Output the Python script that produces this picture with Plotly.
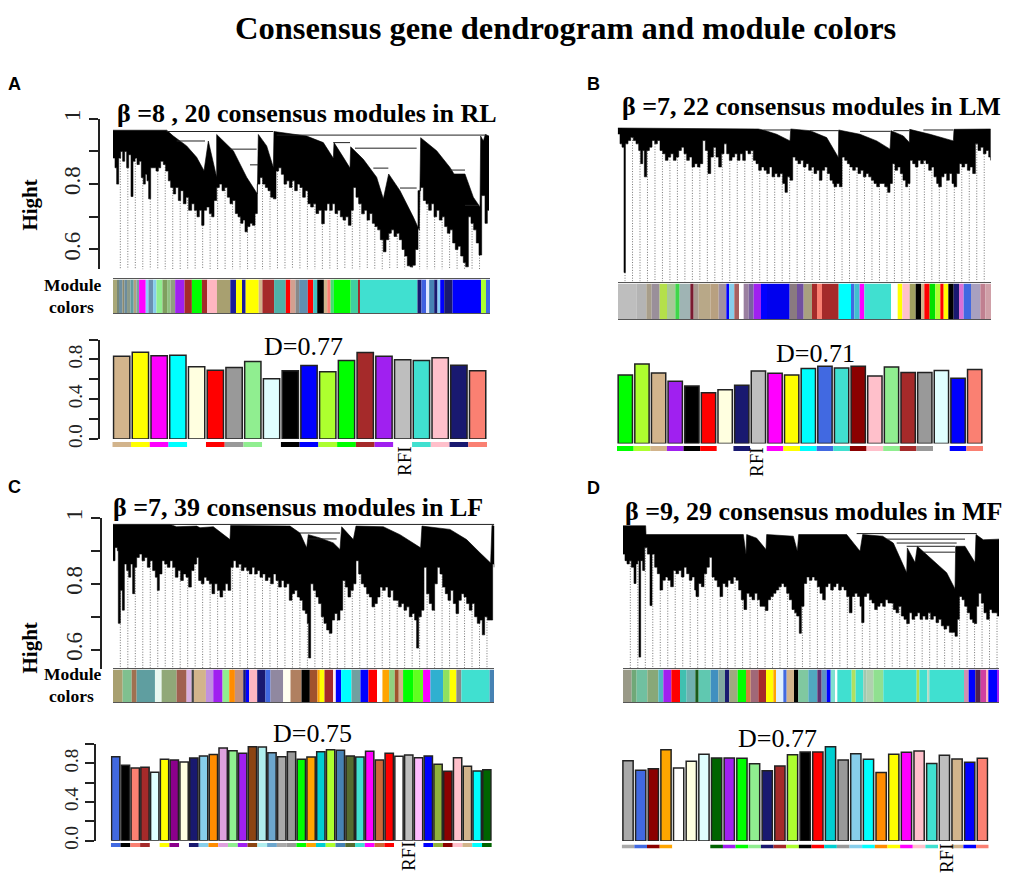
#### consensus gene dendrograms, module colour bands and preservation bars for four muscles

import plotly.graph_objects as go

W, H = 1013, 882

# ---- dendrogram lower edge (gene position along the tree, branch height)
a_low = [(339, .88), (345, .85), (350, .80), (356, .88), (362, .90), (368, .87), (374, .90), (380, .85), (386, .89), (393, .762), (399, .87), (405, .88), (411, .86), (418, .87), (424, .82), (430, .80), (436, .83), (441, .81), (446, .755), (452, .85), (460, .85), (468, .84), (475, .85), (482, .87), (490, .86), (497, .84), (505, .81), (512, .79), (520, .77), (527, .79), (535, .75), (542, .78), (550, .74), (558, .76), (566, .72), (575, .74), (583, .72), (591, .70), (598, .72), (605, .674), (612, .72), (620, .73), (628, .71), (635, .70), (642, .75), (650, .79), (658, .80), (666, .78), (674, .79), (682, .76), (690, .74), (698, .75), (706, .71), (714, .70), (722, .68), (729, .69), (735, .654), (742, .67), (750, .68), (757, .674), (765, .71), (772, .80), (780, .82), (788, .80), (796, .79), (804, .78), (812, .76), (820, .755), (828, .84), (836, .85), (844, .83), (852, .80), (860, .81), (868, .79), (876, .81), (884, .78), (892, .80), (900, .79), (908, .76), (916, .78), (924, .74), (932, .73), (940, .74), (948, .71), (956, .72), (965, .679), (973, .72), (981, .74), (989, .72), (997, .74), (1005, .71), (1013, .72), (1021, .70), (1029, .69), (1037, .70), (1045, .674), (1053, .72), (1060, .79), (1068, .76), (1076, .74), (1085, .709), (1093, .72), (1101, .69), (1109, .71), (1117, .68), (1125, .67), (1133, .66), (1141, .63), (1150, .593), (1158, .63), (1166, .65), (1174, .66), (1182, .64), (1190, .65), (1198, .63), (1206, .60), (1214, .58), (1222, .55), (1230, .547), (1238, .552), (1246, .60), (1254, .78), (1262, .79), (1270, .75), (1278, .74), (1286, .72), (1294, .74), (1302, .70), (1310, .72), (1318, .69), (1326, .70), (1334, .67), (1342, .65), (1350, .66), (1358, .62), (1366, .60), (1374, .61), (1382, .58), (1390, .56), (1397, .547), (1405, .70), (1413, .68), (1421, .66), (1429, .62), (1437, .583), (1445, .765), (1455, .68), (1462, .72), (1467, .765)]
a_top = [(339, .965), (500, .965), (520, .947), (560, .917), (590, .882), (612, .841), (625, .932), (650, .821), (650, .952), (700, .902), (740, .821), (772, .770), (775, .952), (800, .917), (820, .851), (822, .961), (920, .947), (970, .927), (1000, .879), (1002, .927), (1030, .882), (1050, .849), (1052, .914), (1090, .876), (1130, .821), (1150, .755), (1166, .831), (1200, .780), (1240, .699), (1258, .659), (1262, .942), (1310, .902), (1350, .851), (1362, .831), (1395, .831), (1420, .760), (1440, .730), (1442, .947), (1450, .932), (1456, .952), (1467, .947)]
a_links = [(500, 820, .961), (830, 1460, .950), (530, 615, .932), (690, 770, .907), (750, 775, .859), (1000, 1050, .927), (1065, 1250, .910), (1120, 1165, .849), (1200, 1250, .788), (1350, 1395, .843), (1395, 1435, .735)]

b_low = [(323, .95), (330, .92), (336, .91), (342, .53), (346, .92), (354, .93), (362, .94), (370, .93), (378, .92), (386, .90), (392, .86), (398, .90), (403, .82), (410, .90), (418, .91), (426, .93), (434, .92), (442, .93), (450, .90), (458, .89), (466, .87), (474, .88), (482, .89), (490, .87), (498, .88), (506, .90), (514, .91), (522, .89), (530, .87), (538, .88), (546, .85), (554, .86), (562, .85), (570, .86), (578, .93), (586, .90), (594, .83), (602, .88), (610, .91), (618, .88), (626, .85), (634, .89), (642, .92), (650, .89), (658, .87), (666, .88), (674, .89), (682, .87), (690, .89), (698, .87), (706, .90), (714, .89), (722, .90), (730, .87), (738, .86), (746, .84), (754, .85), (762, .84), (770, .83), (778, .85), (786, .82), (794, .83), (802, .82), (810, .83), (818, .80), (825, .773), (832, .82), (840, .81), (848, .88), (856, .87), (864, .86), (872, .87), (880, .85), (888, .86), (896, .84), (904, .85), (912, .83), (920, .84), (928, .81), (936, .84), (944, .85), (952, .83), (960, .81), (968, .80), (972, .79), (980, .80), (988, .79), (996, .88), (1004, .87), (1012, .86), (1020, .85), (1028, .84), (1036, .85), (1044, .83), (1052, .84), (1060, .82), (1068, .83), (1076, .82), (1084, .81), (1092, .80), (1100, .79), (1108, .80), (1116, .80), (1124, .79), (1133, .773), (1140, .80), (1147, .86), (1155, .84), (1163, .85), (1171, .83), (1179, .81), (1187, .79), (1193, .80), (1200, .87), (1208, .86), (1216, .85), (1224, .87), (1232, .86), (1240, .87), (1248, .86), (1256, .84), (1264, .85), (1272, .82), (1280, .80), (1286, .79), (1294, .82), (1302, .83), (1310, .81), (1318, .83), (1326, .80), (1332, .79), (1340, .83), (1348, .86), (1356, .85), (1364, .86), (1372, .84), (1380, .85), (1388, .83), (1396, .92), (1404, .90), (1412, .91), (1420, .89), (1428, .90), (1436, .88), (1442, .87)]
b_top = [(323, .968), (745, .965), (760, .962), (800, .949), (840, .929), (842, .965), (900, .960), (950, .939), (985, .879), (986, .962), (1050, .949), (1100, .929), (1140, .904), (1143, .960), (1180, .944), (1198, .924), (1199, .964), (1260, .949), (1330, .929), (1332, .964), (1442, .965)]
b_links = [(760, 840, .962), (900, 985, .960), (1050, 1142, .958), (1150, 1198, .960), (1240, 1330, .962)]

c_low = [(339, .87), (345, .91), (352, .90), (355, .68), (361, .78), (367, .72), (373, .86), (380, .84), (386, .82), (392, .86), (398, .77), (404, .85), (410, .88), (418, .89), (426, .87), (434, .88), (442, .85), (450, .87), (458, .84), (466, .82), (472, .78), (478, .83), (486, .87), (494, .86), (502, .85), (510, .87), (518, .85), (526, .82), (534, .84), (542, .81), (550, .83), (558, .82), (566, .79), (574, .84), (582, .86), (590, .88), (596, .81), (604, .80), (612, .82), (620, .81), (628, .80), (636, .77), (644, .80), (652, .78), (660, .76), (668, .78), (676, .80), (684, .78), (692, .85), (700, .87), (708, .85), (716, .86), (724, .84), (732, .85), (740, .84), (748, .83), (756, .85), (764, .83), (772, .84), (780, .82), (788, .83), (796, .81), (804, .82), (812, .80), (820, .83), (828, .81), (836, .79), (844, .81), (852, .79), (860, .80), (868, .75), (876, .77), (884, .78), (892, .76), (900, .75), (908, .72), (916, .71), (922, .68), (926, .575), (932, .80), (940, .78), (948, .76), (956, .74), (964, .70), (972, .68), (980, .66), (988, .65), (996, .69), (1004, .71), (1012, .69), (1020, .72), (1028, .81), (1036, .79), (1044, .76), (1052, .78), (1060, .80), (1068, .87), (1076, .83), (1084, .80), (1092, .79), (1100, .77), (1108, .76), (1116, .73), (1124, .74), (1132, .76), (1140, .79), (1148, .78), (1156, .79), (1164, .76), (1172, .78), (1180, .75), (1188, .75), (1196, .73), (1204, .74), (1212, .72), (1220, .73), (1228, .70), (1236, .71), (1244, .69), (1250, .605), (1256, .70), (1264, .72), (1272, .85), (1280, .77), (1288, .74), (1296, .72), (1304, .80), (1312, .85), (1320, .83), (1328, .79), (1336, .77), (1344, .75), (1352, .78), (1360, .74), (1368, .71), (1376, .75), (1384, .77), (1392, .76), (1400, .74), (1408, .72), (1416, .74), (1424, .70), (1432, .68), (1440, .69), (1447, .645), (1454, .70), (1462, .69), (1472, .69), (1478, .86), (1483, .85)]
c_top = [(339, .980), (510, .980), (530, .973), (590, .975), (600, .970), (640, .973), (690, .934), (692, .977), (870, .975), (900, .954), (920, .909), (925, .949), (960, .939), (1000, .924), (1020, .904), (1025, .973), (1060, .934), (1068, .975), (1150, .973), (1200, .949), (1262, .909), (1266, .975), (1350, .965), (1400, .934), (1440, .894), (1472, .863), (1476, .977), (1483, .975)]
c_links = [(339, 1483, .980), (900, 1020, .954), (925, 1010, .936)]

d_low = [(339, .90), (345, .88), (351, .87), (358, .88), (364, .86), (372, .81), (378, .87), (383, .88), (387, .584), (392, .88), (398, .85), (404, .92), (412, .90), (420, .742), (426, .90), (434, .86), (442, .84), (450, .79), (458, .82), (466, .83), (474, .82), (482, .80), (490, .85), (498, .84), (506, .85), (514, .83), (522, .86), (530, .84), (538, .82), (546, .83), (554, .79), (558, .77), (566, .81), (574, .80), (582, .84), (590, .86), (598, .89), (606, .83), (614, .82), (622, .80), (630, .77), (638, .81), (646, .80), (654, .82), (662, .81), (670, .83), (678, .82), (686, .79), (694, .76), (702, .73), (710, .78), (718, .77), (726, .76), (734, .78), (742, .76), (750, .74), (758, .74), (766, .727), (774, .76), (782, .77), (790, .78), (798, .79), (806, .80), (814, .81), (822, .80), (830, .78), (838, .76), (846, .73), (854, .72), (860, .71), (868, .657), (874, .74), (882, .81), (890, .83), (898, .82), (906, .83), (914, .82), (922, .80), (930, .78), (938, .76), (946, .80), (954, .81), (962, .79), (970, .80), (978, .81), (986, .79), (994, .80), (1002, .79), (1010, .77), (1018, .72), (1026, .77), (1034, .78), (1042, .77), (1050, .74), (1055, .69), (1062, .77), (1070, .78), (1078, .76), (1086, .75), (1094, .73), (1102, .74), (1110, .75), (1118, .74), (1126, .76), (1134, .75), (1142, .75), (1150, .73), (1158, .72), (1166, .74), (1174, .71), (1182, .70), (1190, .687), (1198, .72), (1206, .70), (1214, .71), (1222, .72), (1230, .70), (1238, .71), (1246, .70), (1254, .72), (1262, .70), (1270, .71), (1278, .69), (1286, .70), (1294, .68), (1302, .67), (1310, .68), (1318, .66), (1326, .66), (1335, .648), (1342, .70), (1348, .77), (1356, .76), (1364, .74), (1372, .72), (1380, .70), (1388, .69), (1393, .687), (1400, .74), (1406, .78), (1414, .75), (1422, .72), (1430, .70), (1438, .73), (1446, .72), (1454, .72), (1462, .71), (1467, .84)]
d_top = [(339, .987), (407, .987), (408, .960), (700, .960), (708, .899), (710, .960), (740, .949), (768, .914), (770, .960), (850, .955), (862, .909), (866, .960), (1010, .960), (1050, .909), (1058, .960), (1118, .955), (1150, .934), (1190, .843), (1192, .919), (1215, .874), (1222, .924), (1250, .899), (1310, .843), (1335, .793), (1337, .924), (1365, .924), (1395, .874), (1398, .960), (1420, .944), (1467, .946)]
d_links = [(1040, 1400, .963), (1130, 1365, .946), (1160, 1340, .934), (1190, 1335, .924), (1240, 1335, .906)]

# ---- module colour bands (gene position where each colour starts, colour)
a_band = [(339, '#a9a878'), (351, '#778877'), (357, '#6f8fa0'), (367, '#8a8a70'), (373, '#6c8c9c'), (381, '#8a9a8a'), (391, '#5f9ea0'), (401, '#b0a080'), (409, '#7ca0a0'), (417, '#ff00ff'), (437, '#87cefa'), (445, '#6a8fb0'), (459, '#87ceeb'), (469, '#90ee90'), (487, '#7f9f5f'), (501, '#90c080'), (511, '#8fa080'), (525, '#a020f0'), (553, '#a52a2a'), (575, '#00ff00'), (605, '#a52a2a'), (621, '#ffb6c1'), (650, '#a8a070'), (690, '#1a1a9a'), (707, '#ffff00'), (725, '#1a1a9a'), (736, '#ffff00'), (775, '#d2b48c'), (786, '#a52a2a'), (821, '#50b0a8'), (856, '#ff0000'), (870, '#d2a090'), (885, '#888888'), (896, '#5f8fb0'), (922, '#ff0000'), (938, '#40c0c0'), (950, '#000000'), (970, '#d2b48c'), (980, '#fa8072'), (990, '#40e070'), (1000, '#00ff00'), (1050, '#40d0a0'), (1072, '#a52a2a'), (1078, '#40e0d0'), (1250, '#191970'), (1262, '#4060e0'), (1276, '#e0e8ff'), (1285, '#4682b4'), (1300, '#191970'), (1310, '#87cefa'), (1318, '#0000ff'), (1330, '#191970'), (1355, '#0000ff'), (1440, '#adff2f'), (1455, '#4169e1')]
a_band_end = 1467

b_band = [(323, '#bebebe'), (378, '#b4b4b4'), (408, '#a89e8a'), (424, '#9a8f9a'), (448, '#b4e04a'), (470, '#a8c898'), (495, '#3fd64a'), (508, '#9fb4b4'), (540, '#7a1a30'), (550, '#a89a90'), (565, '#b8a888'), (600, '#b8a080'), (625, '#a090a0'), (648, '#0000ff'), (656, '#87ceeb'), (672, '#a86060'), (686, '#ffffff'), (700, '#9a80a0'), (715, '#7a60a0'), (730, '#a020f0'), (752, '#0000ff'), (770, '#0000ee'), (838, '#8a7a80'), (860, '#7050a0'), (880, '#a8a080'), (905, '#a52a2a'), (920, '#fa8072'), (935, '#a52a2a'), (985, '#00ffff'), (1022, '#4169e1'), (1032, '#40c0d0'), (1048, '#ff00ff'), (1062, '#40e0d0'), (1142, '#ffffff'), (1162, '#ffff00'), (1176, '#ffc0cb'), (1198, '#a0a060'), (1216, '#000000'), (1232, '#d2b48c'), (1242, '#ff0000'), (1258, '#00e000'), (1275, '#adff2f'), (1290, '#ff0000'), (1300, '#ffff00'), (1314, '#000000'), (1330, '#191970'), (1346, '#da70d6'), (1360, '#4169e1'), (1382, '#a8a0c0'), (1410, '#c08090'), (1425, '#d0a0a8')]
b_band_end = 1442

c_band = [(339, '#a8a070'), (368, '#7fc08f'), (395, '#a07050'), (410, '#5f9ea0'), (465, '#e8f8f0'), (485, '#90a878'), (530, '#a06050'), (560, '#d8b0e0'), (575, '#444444'), (582, '#d2b48c'), (618, '#c090e0'), (640, '#a020f0'), (668, '#90ee90'), (688, '#ff8c00'), (705, '#c09080'), (730, '#191970'), (738, '#0000ff'), (748, '#ffb6c1'), (772, '#191970'), (797, '#4169e1'), (812, '#9088a0'), (850, '#fffff0'), (872, '#b08060'), (905, '#000000'), (930, '#a0522d'), (953, '#ffa500'), (960, '#ffff00'), (974, '#a52a2a'), (1000, '#ffe8e8'), (1008, '#0000ff'), (1024, '#00ffff'), (1055, '#70a0a0'), (1082, '#0000ff'), (1106, '#ff0000'), (1132, '#ffffff'), (1148, '#ffa500'), (1168, '#90d080'), (1185, '#a0522d'), (1197, '#d2b48c'), (1210, '#00ff00'), (1240, '#60ff20'), (1270, '#ff00ff'), (1292, '#30b0d0'), (1330, '#90e060'), (1350, '#ffff00'), (1370, '#888888'), (1385, '#40e0d0'), (1470, '#4682b4')]
c_band_end = 1483

d_band = [(339, '#9a9a88'), (365, '#70a878'), (380, '#70c0a0'), (412, '#88a878'), (445, '#50b8c0'), (460, '#a020f0'), (484, '#ff0000'), (510, '#40c0b0'), (530, '#70b0b0'), (556, '#1a5a1a'), (566, '#60c8b0'), (602, '#4090c0'), (625, '#80a8a0'), (645, '#191970'), (658, '#a0a880'), (683, '#00ff00'), (708, '#d08040'), (722, '#a06878'), (745, '#a52a2a'), (768, '#ffff00'), (790, '#ffa500'), (798, '#e0f0ff'), (820, '#4169e1'), (830, '#d2b48c'), (852, '#000000'), (865, '#80c8a0'), (895, '#50a8c0'), (922, '#603070'), (935, '#6090c0'), (950, '#0000ff'), (962, '#80e0d0'), (975, '#ffffff'), (982, '#40e0d0'), (1025, '#b0e060'), (1037, '#40e0d0'), (1060, '#a0c8b0'), (1070, '#b0d0b0'), (1090, '#90e090'), (1120, '#40e0d0'), (1220, '#b0e050'), (1228, '#40e0d0'), (1252, '#b8d8c0'), (1258, '#40e0d0'), (1362, '#d090b0'), (1376, '#0000ff'), (1396, '#502050'), (1412, '#d040a0'), (1428, '#ffb6c1'), (1435, '#0000ff'), (1462, '#a020f0')]
d_band_end = 1467

# ---- module preservation bars
a_bar_v = [.833, .873, .836, .843, .726, .692, .719, .779, .605, .686, .739, .676, .789, .870, .833, .796, .789, .816, .742, .686]
a_bar_c = ['tan', 'yellow', 'magenta', 'cyan', 'lightyellow', 'red', '#999999', 'lightgreen', 'lightcyan', 'black', 'blue', 'greenyellow', 'lime', 'brown', '#a020f0', '#bebebe', 'turquoise', 'pink', 'midnightblue', 'salmon']

b_bar_v = [.683, .793, .703, .620, .573, .507, .537, .580, .723, .700, .683, .747, .770, .753, .770, .673, .763, .707, .707, .727, .650, .737]
b_bar_c = ['lime', 'greenyellow', 'tan', '#a020f0', 'black', 'red', 'lightyellow', 'midnightblue', '#bebebe', 'magenta', 'yellow', 'cyan', 'royalblue', 'turquoise', 'darkred', 'pink', 'lightgreen', 'brown', '#999999', 'lightcyan', 'blue', 'salmon']

c_bar_v = [.869, .780, .753, .759, .708, .842, .835, .814, .856, .876, .893, .959, .931, .904, .973, .969, .911, .869, .921, .842, .866, .921, .942, .935, .876, .866, .924, .835, .904, .873, .887, .859, .876, .790, .718, .859, .770, .722, .735]
c_bar_c = ['royalblue', 'black', 'salmon', 'brown', 'lightcyan', 'yellow', 'darkmagenta', 'lightyellow', 'midnightblue', 'skyblue', 'darkorange', 'plum', 'lightgreen', '#a020f0', 'saddlebrown', 'paleturquoise', '#6ca6cd', 'darkgrey', '#999999', 'lime', 'orange', 'darkturquoise', 'greenyellow', 'steelblue', 'darkolivegreen', 'turquoise', 'magenta', '#cd6839', 'red', 'white', '#bebebe', '#ffbbff', 'blue', '#8fb03c', 'darkred', 'pink', 'tan', 'cyan', 'darkgreen']

d_bar_v = [.831, .731, .748, .945, .755, .824, .897, .859, .859, .855, .800, .728, .776, .893, .921, .921, .976, .838, .903, .845, .710, .897, .917, .931, .803, .886, .848, .814, .855]
d_bar_c = ['darkgrey', 'royalblue', 'darkred', 'orange', 'white', 'lightyellow', 'lightcyan', 'darkgreen', '#a020f0', 'lime', 'lightgreen', 'midnightblue', 'brown', 'greenyellow', 'black', 'red', 'darkturquoise', '#999999', 'skyblue', 'cyan', 'darkorange', 'yellow', 'magenta', 'pink', 'turquoise', '#bebebe', 'tan', 'blue', 'salmon']

# colours that do not show in the strip below the bars
no_strip = ['lightyellow', 'lightcyan', 'white', '#bebebe', '#ffbbff']

SERIF = 'Liberation Serif'


def px_x(p):
    return (p - 8) / W


def px_y(p):
    return 1 - (p - 16) / (H - 16)


# layout of each panel in page pixels
panels = [
    dict(low=a_low, top=a_top, links=a_links, band=a_band, band_end=a_band_end, bar_v=a_bar_v, bar_c=a_bar_c,
         tree=(113, 489, 118, 269), tree_h=(.539, 1), band_box=(113, 490, 279, 313), bars=(112.3, 487, 339.3, 439), strip=(442, 447),
         axis=(99, 99), gap=.13, leaf=(361, 1445)),
    dict(low=b_low, top=b_top, links=b_links, band=b_band, band_end=b_band_end, bar_v=b_bar_v, bar_c=b_bar_c,
         tree=(617.7, 990.7, 116.7, 281), tree_h=(.503, 1), band_box=(618, 991, 283, 319), bars=(617, 983, 343, 443.5), strip=(446, 451),
         axis=None, gap=.14, leaf=(345, 1440)),
    dict(low=c_low, top=c_top, links=c_links, band=c_band, band_end=c_band_end, bar_v=c_bar_v, bar_c=c_bar_c,
         tree=(113, 494.3, 518, 670), tree_h=(.54, 1), band_box=(113, 494, 670, 703), bars=(110.8, 491.8, 744.7, 841.7), strip=(844, 848),
         axis=(100.7, 95), gap=.15, leaf=(361, 1480)),
    dict(low=d_low, top=d_top, links=d_links, band=d_band, band_end=d_band_end, bar_v=d_bar_v, bar_c=d_bar_c,
         tree=(623, 999, 521.7, 669), tree_h=(.549, 1), band_box=(623, 999, 670, 703), bars=(621.7, 988.7, 745, 842), strip=(845.5, 849.5),
         axis=None, gap=.19, leaf=(361, 1465)),
]

fig = go.Figure()
layout = {}
axis_no = 0


def new_axes(box, x_range, y_range):
    # one x/y axis pair placed on the page, hidden until asked for
    global axis_no
    axis_no += 1
    n = axis_no
    x0, x1, y0, y1 = box
    layout[f'xaxis{n}'] = dict(domain=[px_x(x0), px_x(x1)], range=x_range, visible=False, anchor=f'y{n}', fixedrange=True)
    layout[f'yaxis{n}'] = dict(domain=[px_y(y1), px_y(y0)], range=y_range, visible=False, anchor=f'x{n}', fixedrange=True)
    return n


def show_y_axis(n, pos, vals, text, size):
    layout[f'yaxis{n}'].update(visible=True, anchor='free', position=px_x(pos), showgrid=False, zeroline=False,
                               showline=True, linecolor='#222222', linewidth=1.5, ticks='outside', ticklen=9,
                               tickcolor='#222222', tickwidth=1.5, tickvals=vals, ticktext=text, tickangle=-90,
                               tickfont=dict(family=SERIF, size=size, color='#222222'))


for p in panels:
    low_x = [v[0] for v in p['low']]
    low_h = [v[1] for v in p['low']]

    # dendrogram
    n = new_axes(p['tree'], [low_x[0], low_x[-1]], list(p['tree_h']))
    if p['axis']:
        show_y_axis(n, p['axis'][0], [.6, .7, .8, .9, 1], ['0.6', '', '0.8', '', '1'], 23)

    # dotted guide lines, drawn first so the tree covers them
    gx, gy = [], []
    g = p['leaf'][0]
    while g <= p['leaf'][1]:
        i = max(k for k, v in enumerate(low_x) if v <= g)
        gx += [g, g, None]
        gy += [low_h[i], p['tree_h'][0], None]
        g += 22.45
    fig.add_trace(go.Scatter(x=gx, y=gy, xaxis=f'x{n}', yaxis=f'y{n}', mode='lines', line=dict(color='#666666', width=0.9, dash='1px,1.6px')))

    # tree silhouette: sloped upper edge, stepped lower edge
    sx = [v[0] for v in p['top']]
    sh = [v[1] for v in p['top']]
    for i in range(len(low_x) - 1, -1, -1):
        right = low_x[min(i + 1, len(low_x) - 1)]
        sx += [right, low_x[i]]
        sh += [low_h[i], low_h[i]]
    fig.add_trace(go.Scatter(x=sx, y=sh, xaxis=f'x{n}', yaxis=f'y{n}', mode='lines', fill='toself', fillcolor='black', line=dict(color='black', width=0.6)))

    # branches that join the clusters
    lx, ly = [], []
    for x0, x1, h in p['links']:
        lx += [x0, x1, None]
        ly += [h, h, None]
    fig.add_trace(go.Scatter(x=lx, y=ly, xaxis=f'x{n}', yaxis=f'y{n}', mode='lines', line=dict(color='#222222', width=1)))

    # colour band
    starts = [v[0] for v in p['band']]
    ends = starts[1:] + [p['band_end']]
    n = new_axes(p['band_box'], [starts[0], p['band_end']], [0, 1])
    layout[f'xaxis{n}'].update(visible=True, showticklabels=False, ticks='', showgrid=False, zeroline=False, showline=True, mirror=True, linecolor='#555555', linewidth=1)
    fig.add_trace(go.Bar(x=[(s + e) / 2 for s, e in zip(starts, ends)], y=[1] * len(starts), width=[e - s for s, e in zip(starts, ends)],
                         xaxis=f'x{n}', yaxis=f'y{n}', marker=dict(color=[v[1] for v in p['band']], line=dict(width=0))))

    # preservation bars
    count = len(p['bar_v'])
    n = new_axes(p['bars'], [-.5, count - .5], [0, 1])
    if p['axis']:
        show_y_axis(n, p['axis'][1], [0, .2, .4, .6, .8, 1], ['0.0', '', '0.4', '', '0.8', ''], 19)
    fig.add_trace(go.Bar(x=list(range(count)), y=p['bar_v'], xaxis=f'x{n}', yaxis=f'y{n}', width=1 - p['gap'],
                         marker=dict(color=p['bar_c'], line=dict(color='#222222', width=1.5))))

    # colour strip under the bars
    n = new_axes((p['bars'][0], p['bars'][1], p['strip'][0], p['strip'][1]), [-.5, count - .5], [0, 1])
    strip = ['white' if c in no_strip else c for c in p['bar_c']]
    fig.add_trace(go.Bar(x=list(range(count)), y=[1] * count, xaxis=f'x{n}', yaxis=f'y{n}', width=1,
                         marker=dict(color=strip, line=dict(width=0))))


def label(text, x, y, size, bold=False, family=SERIF, angle=0):
    if bold:
        text = f'<b>{text}</b>'
    fig.add_annotation(text=text, x=px_x(x), y=px_y(y), xref='paper', yref='paper', showarrow=False, xanchor='center', yanchor='middle',
                       textangle=angle, font=dict(family=family, size=size, color='black'))


label('Consensus gene dendrogram and module colors', 565, 27, 32.5, bold=True)
for text, x, y in [('A', 14, 83), ('B', 593, 83), ('C', 14, 487), ('D', 593, 488)]:
    label(text, x, y, 18, bold=True, family='Liberation Sans')
for text, x, y in [('β =8 , 20 consensus modules in RL', 307, 113), ('β =7, 22 consensus modules in LM', 811, 106),
                   ('β =7, 39 consensus modules in LF', 298, 508), ('β =9, 29 consensus modules in MF', 813, 512)]:
    label(text, x, y, 26, bold=True)
for y in [205, 649]:
    label('Hight', 30, y, 21, bold=True, angle=-90)
for y1, y2 in [(285, 307), (675, 697)]:
    label('Module', 73, y1, 17.5, bold=True)
    label('colors', 71, y2, 17.5, bold=True)
for text, x, y in [('D=0.77', 303, 346), ('D=0.71', 815, 353), ('D=0.75', 312, 734), ('D=0.77', 777, 739)]:
    label(text, x, y, 26)
for x, y in [(405, 461), (757, 462), (408, 857), (946, 859)]:
    label('RFI', x, y, 19, angle=-90)

fig.update_layout(width=W, height=H, margin=dict(l=0, r=0, t=8, b=8), paper_bgcolor='white', plot_bgcolor='white',
                  showlegend=False, barmode='overlay', **layout)

fig.write_html("out.html")
